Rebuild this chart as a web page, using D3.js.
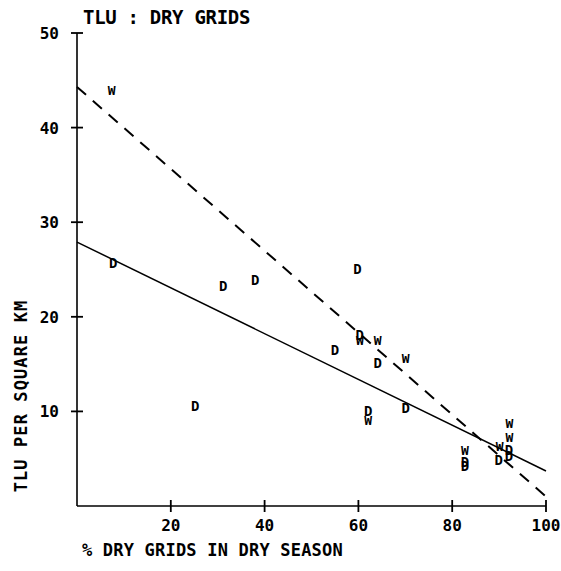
<!DOCTYPE html>
<html>
<head>
<meta charset="utf-8">
<script src="https://cdn.jsdelivr.net/npm/d3@7"></script>
<style>
  body { margin: 0; background: #fff; }
  text { font-family: "DejaVu Sans Mono", monospace; font-weight: bold; fill: #000; }
</style>
</head>
<body>
<div class="chart"></div>
<script>
// Data.
const xTicks = [20, 40, 60, 80, 100];
const yTicks = [10, 20, 30, 40, 50];

const dryX = [7.7, 25.2, 31.2, 38.0, 59.8, 55.0, 60.3, 64.1, 70.1, 62.1, 92.1, 92.1, 89.9, 82.7, 82.7];
const dryY = [25.7, 10.6, 23.3, 23.9, 25.1, 16.5, 18.1, 15.1, 10.4, 10.0, 5.9, 5.3, 4.9, 4.7, 4.2];

const wetX = [7.4, 60.3, 64.1, 70.1, 62.1, 82.7, 92.2, 92.2, 90.1];
const wetY = [44.0, 17.5, 17.5, 15.6, 9.1, 5.9, 8.8, 7.3, 6.3];

// Fitted lines (end points).
const fitX = [0, 100];
const dryFit = [27.9, 3.7];
const wetFit = [44.3, 1.0];

const width = 561;
const height = 571;

const svg = d3
  .select(".chart")
  .append("svg")
  .attr("width", width)
  .attr("height", height);

const xScale = d3.scaleLinear().domain([0, 100]).range([77, 546]);
const yScale = d3.scaleLinear().domain([0, 50]).range([506, 33]);

// Axis lines with cross ticks.
svg.append("line")
  .attr("x1", xScale(0)).attr("x2", xScale(100))
  .attr("y1", yScale(0)).attr("y2", yScale(0))
  .attr("stroke", "#000").attr("stroke-width", 1.6);

svg.append("line")
  .attr("x1", xScale(0)).attr("x2", xScale(0))
  .attr("y1", yScale(0)).attr("y2", yScale(50))
  .attr("stroke", "#000").attr("stroke-width", 1.6);

svg.append("g")
  .selectAll("line")
  .data(xTicks)
  .join("line")
  .attr("x1", (d) => xScale(d)).attr("x2", (d) => xScale(d))
  .attr("y1", yScale(0) - 6).attr("y2", yScale(0) + 6)
  .attr("stroke", "#000").attr("stroke-width", 1.8);

svg.append("g")
  .selectAll("line")
  .data(yTicks)
  .join("line")
  .attr("x1", xScale(0) - 6).attr("x2", xScale(0) + 6)
  .attr("y1", (d) => yScale(d)).attr("y2", (d) => yScale(d))
  .attr("stroke", "#000").attr("stroke-width", 1.8);

// Tick labels.
svg.append("g")
  .selectAll("text")
  .data(xTicks)
  .join("text")
  .attr("x", (d) => xScale(d))
  .attr("y", yScale(0) + 25)
  .attr("text-anchor", "middle")
  .style("font-size", "16px")
  .text((d) => d);

svg.append("g")
  .selectAll("text")
  .data(yTicks)
  .join("text")
  .attr("x", xScale(0) - 18)
  .attr("y", (d) => yScale(d) + 6)
  .attr("text-anchor", "end")
  .style("font-size", "16px")
  .text((d) => d);

// Titles.
svg.append("text")
  .attr("x", 83)
  .attr("y", 24)
  .style("font-size", "19px")
  .style("letter-spacing", "-0.3px")
  .text("TLU : DRY GRIDS");

svg.append("text")
  .attr("x", 82)
  .attr("y", 556)
  .style("font-size", "17px")
  .style("letter-spacing", "0.2px")
  .text("% DRY GRIDS IN DRY SEASON");

svg.append("text")
  .attr("transform", "translate(27, 396) rotate(-90)")
  .attr("text-anchor", "middle")
  .style("font-size", "17px")
  .style("letter-spacing", "1.1px")
  .text("TLU PER SQUARE KM");

// Fitted lines.
const lineGen = d3
  .line()
  .x((d) => xScale(d[0]))
  .y((d) => yScale(d[1]));

svg.append("path")
  .attr("d", lineGen(d3.zip(fitX, dryFit)))
  .attr("fill", "none")
  .attr("stroke", "#000")
  .attr("stroke-width", 1.5);

svg.append("path")
  .attr("d", lineGen(d3.zip(fitX, wetFit)))
  .attr("fill", "none")
  .attr("stroke", "#000")
  .attr("stroke-width", 2)
  .attr("stroke-dasharray", "12,9");

// Points drawn as letters.
svg.append("g")
  .selectAll("text")
  .data(d3.zip(dryX, dryY))
  .join("text")
  .attr("x", (d) => xScale(d[0]))
  .attr("y", (d) => yScale(d[1]) + 5)
  .attr("text-anchor", "middle")
  .style("font-size", "14px")
  .text("D");

svg.append("g")
  .selectAll("text")
  .data(d3.zip(wetX, wetY))
  .join("text")
  .attr("x", (d) => xScale(d[0]))
  .attr("y", (d) => yScale(d[1]) + 5)
  .attr("text-anchor", "middle")
  .style("font-size", "13px")
  .text("W");
</script>
</body>
</html>
